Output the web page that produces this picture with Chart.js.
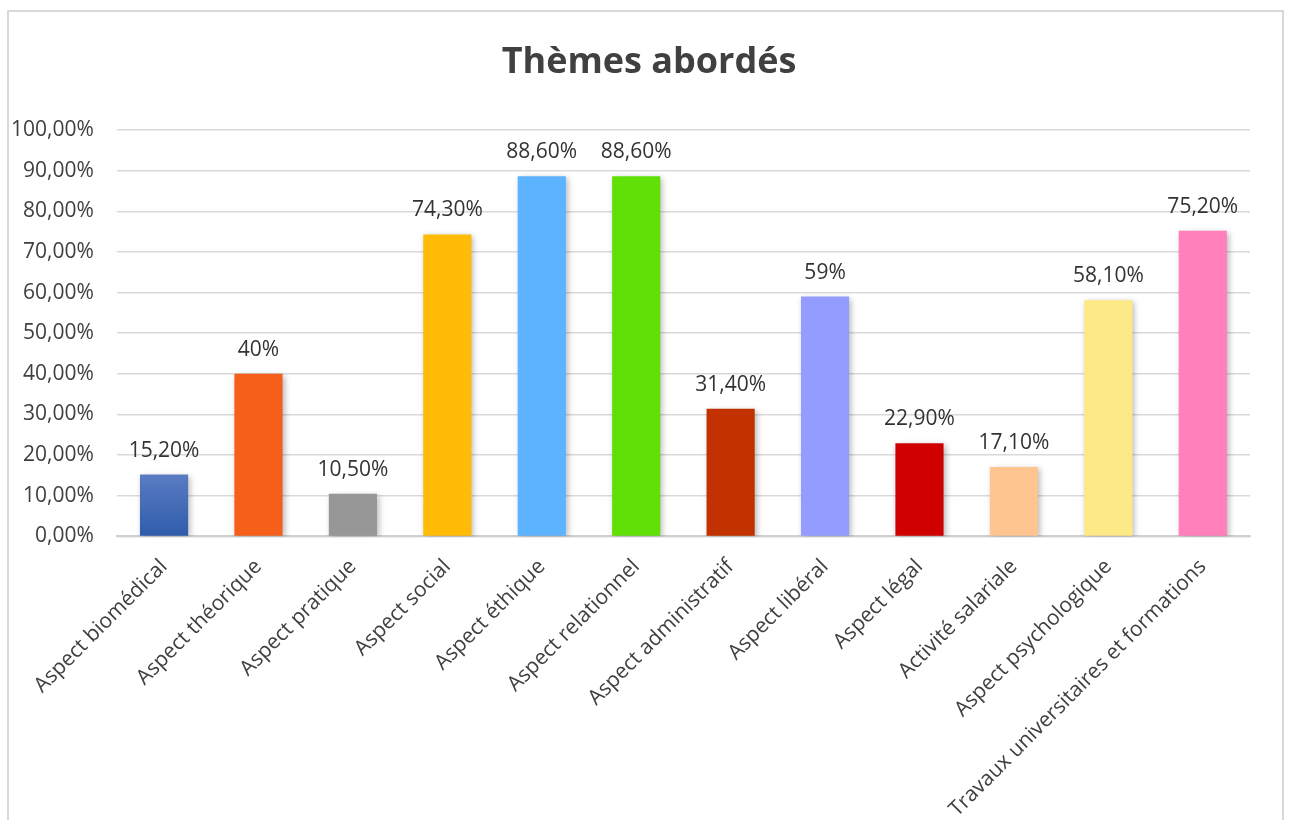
<!DOCTYPE html>
<html>
<head>
<meta charset="utf-8">
<script src="https://cdn.jsdelivr.net/npm/chart.js@4/dist/chart.umd.min.js"></script>
<style>
  html, body { margin: 0; padding: 0; background: #fff; overflow: hidden; }
  canvas { display: block; }
</style>
</head>
<body>
<canvas id="chart" width="1291" height="840"></canvas>
<script>
// data
const categories = [
    "Aspect biomédical", "Aspect théorique", "Aspect pratique", "Aspect social",
    "Aspect éthique", "Aspect relationnel", "Aspect administratif", "Aspect libéral",
    "Aspect légal", "Activité salariale", "Aspect psychologique",
    "Travaux universitaires et formations"
];
const values = [15.2, 40, 10.5, 74.3, 88.6, 88.6, 31.4, 59, 22.9, 17.1, 58.1, 75.2];
const valueLabels = ["15,20%", "40%", "10,50%", "74,30%", "88,60%", "88,60%",
    "31,40%", "59%", "22,90%", "17,10%", "58,10%", "75,20%"];
const barColors = ["#3a64b2", "#f55f1a", "#979797", "#ffbb05", "#5cb3ff", "#60e006",
    "#c23200", "#959cff", "#d00000", "#ffc591", "#fde985", "#ff80ba"];
const chartTitle = 'Thèmes abordés';

const FONT = "'Open Sans', 'Noto Sans', sans-serif";
const TEXT = "#404040";

// frame round the whole chart and the title (centred on the frame, not the plot)
const framePlugin = {
    id: 'frame',
    beforeDraw(chart) {
        const ctx = chart.ctx;
        ctx.save();
        ctx.strokeStyle = '#d9d9d9';
        ctx.lineWidth = 2;
        ctx.strokeRect(8, 11, 1275, 850);
        ctx.font = "bold 36px " + FONT;
        ctx.fillStyle = TEXT;
        ctx.textAlign = 'center';
        ctx.textBaseline = 'middle';
        ctx.fillText(chartTitle, 649, 63);
        ctx.restore();
    }
};

// soft shadow under the bars
const shadowPlugin = {
    id: 'barShadow',
    beforeDatasetsDraw(chart) {
        const ctx = chart.ctx;
        ctx.save();
        ctx.shadowColor = 'rgba(0,0,0,0.28)';
        ctx.shadowBlur = 6;
        ctx.shadowOffsetX = 2;
        ctx.shadowOffsetY = 2;
    },
    afterDatasetsDraw(chart) {
        chart.ctx.restore();
    }
};

// value labels above each bar
const valueLabelPlugin = {
    id: 'valueLabels',
    afterDatasetsDraw(chart) {
        const ctx = chart.ctx;
        const meta = chart.getDatasetMeta(0);
        ctx.save();
        ctx.font = "21px " + FONT;
        ctx.fillStyle = "#333333";
        ctx.textAlign = 'center';
        ctx.textBaseline = 'alphabetic';
        meta.data.forEach((bar, i) => {
            ctx.fillText(valueLabels[i], bar.x, bar.y - 18);
        });
        ctx.restore();
    }
};

const ctx = document.getElementById('chart').getContext('2d');
new Chart(ctx, {
    type: 'bar',
    data: {
        labels: categories,
        datasets: [{
            data: values,
            backgroundColor: (c) => {
                if (c.dataIndex !== 0 || !c.chart.chartArea) return barColors[c.dataIndex];
                const area = c.chart.chartArea;
                const g = c.chart.ctx.createLinearGradient(0, area.bottom - 62, 0, area.bottom);
                g.addColorStop(0, '#5a7cc2');
                g.addColorStop(1, '#2f5cab');
                return g;
            },
            borderWidth: 0,
            barPercentage: 0.51,
            categoryPercentage: 1.0
        }]
    },
    options: {
        responsive: false,
        animation: false,
        layout: { padding: { left: -12, right: 41, top: 130, bottom: 0 } },
        plugins: {
            legend: { display: false },
            tooltip: { enabled: false },
            title: { display: false }
        },
        scales: {
            x: {
                grid: { display: false, drawTicks: false },
                border: { display: true, color: '#d0d0d0', width: 2 },
                ticks: {
                    color: TEXT,
                    font: { family: FONT, size: 21 },
                    minRotation: 45,
                    maxRotation: 45,
                    padding: 18,
                    autoSkip: false
                }
            },
            y: {
                min: 0,
                max: 100,
                grid: { color: '#d9d9d9', lineWidth: 1.5, drawTicks: false },
                border: { display: false },
                ticks: {
                    stepSize: 10,
                    color: TEXT,
                    padding: 23,
                    font: { family: FONT, size: 21 },
                    callback: (v) => v.toFixed(2).replace('.', ',') + '%'
                }
            }
        }
    },
    plugins: [framePlugin, shadowPlugin, valueLabelPlugin]
});
</script>
</body>
</html>
